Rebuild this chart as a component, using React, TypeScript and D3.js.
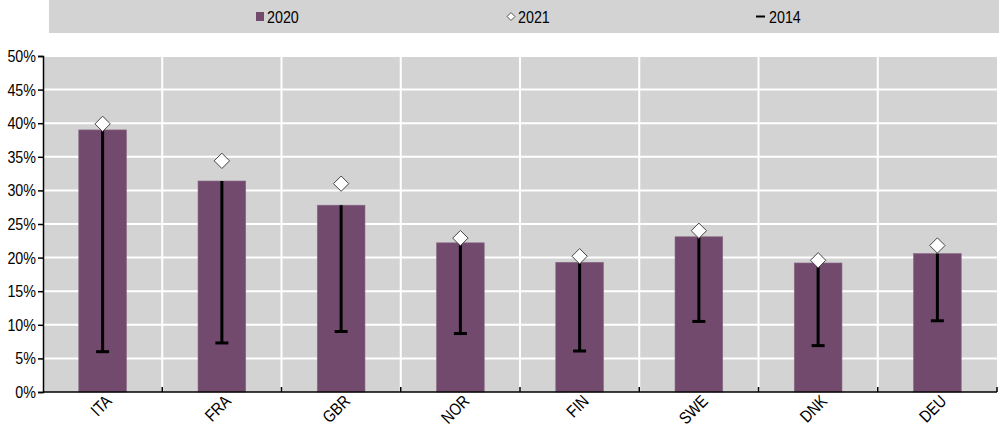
import { useEffect, useRef } from 'react';
import * as d3 from 'd3';

const countries = ['ITA', 'FRA', 'GBR', 'NOR', 'FIN', 'SWE', 'DNK', 'DEU'];
const values2020 = [39.0, 31.4, 27.8, 22.2, 19.3, 23.1, 19.2, 20.6];
const values2021 = [39.9, 34.4, 31.0, 22.9, 20.2, 24.0, 19.6, 21.8];
const values2014 = [6.0, 7.3, 9.0, 8.7, 6.1, 10.5, 6.9, 10.6];
const yTicks = [0, 5, 10, 15, 20, 25, 30, 35, 40, 45, 50];

const W = 1000;
const H = 429;
const font = '"Liberation Sans Narrow", "Liberation Sans", Arial, sans-serif';
const fs = 17;

const App = (): JSX.Element => {
  const svgRef = useRef<SVGSVGElement>(null);

  useEffect(() => {
    document.body.style.margin = '0';
    if (svgRef.current) svgRef.current.innerHTML = '';

    const marginLeft = 43;
    const marginRight = 3;
    const marginTop = 56;
    const marginBottom = 37;

    const x = d3.scaleBand(countries, [marginLeft, W - marginRight]);
    const y = d3.scaleLinear([0, 50], [H - marginBottom, marginTop]);
    const barW = x.bandwidth() * 0.4;

    const svg = d3.select(svgRef.current).attr('width', W).attr('height', H).attr('viewBox', [0, 0, W, H]);

    // legend box
    const legend = svg.append('g');
    legend.append('rect').attr('x', 49).attr('y', 0).attr('width', 950).attr('height', 33).attr('fill', '#d3d3d3');
    legend.append('rect').attr('x', 256).attr('y', 12).attr('width', 8).attr('height', 9).attr('fill', '#724a6e');
    legend
      .append('path')
      .attr('d', d3.symbol(d3.symbolDiamond2, 40)())
      .attr('transform', 'translate(511,16.5)')
      .attr('fill', '#fff')
      .attr('stroke', '#555')
      .attr('stroke-width', 1);
    legend.append('line').attr('x1', 756).attr('x2', 765).attr('y1', 16.5).attr('y2', 16.5).attr('stroke', '#000').attr('stroke-width', 2);
    const legendText = [
      { t: '2020', x: 267 },
      { t: '2021', x: 518 },
      { t: '2014', x: 769 },
    ];
    legend
      .selectAll('text')
      .data(legendText)
      .enter()
      .append('text')
      .attr('x', (d) => d.x)
      .attr('y', 23)
      .attr('font-family', font)
      .attr('font-size', fs)
      .attr('fill', '#000')
      .text((d) => d.t);

    // plot background
    svg
      .append('rect')
      .attr('x', marginLeft)
      .attr('y', marginTop)
      .attr('width', W - marginRight - marginLeft)
      .attr('height', H - marginBottom - marginTop)
      .attr('fill', '#d3d3d3');

    // horizontal grid
    svg
      .append('g')
      .selectAll('line')
      .data(yTicks.slice(1))
      .enter()
      .append('line')
      .attr('x1', marginLeft)
      .attr('x2', W - marginRight)
      .attr('y1', (d) => y(d))
      .attr('y2', (d) => y(d))
      .attr('stroke', '#fff')
      .attr('stroke-width', 2);

    // vertical grid at category boundaries
    const bounds = countries.slice(1).map((c) => x(c) as number);
    svg
      .append('g')
      .selectAll('line')
      .data(bounds)
      .enter()
      .append('line')
      .attr('x1', (d) => d)
      .attr('x2', (d) => d)
      .attr('y1', marginTop)
      .attr('y2', H - marginBottom)
      .attr('stroke', '#fff')
      .attr('stroke-width', 2);

    const cx = (c: string) => (x(c) as number) + x.bandwidth() / 2;

    // bars
    svg
      .append('g')
      .selectAll('rect')
      .data(countries)
      .enter()
      .append('rect')
      .attr('x', (d) => cx(d) - barW / 2)
      .attr('y', (_, i) => y(values2020[i]))
      .attr('width', barW)
      .attr('height', (_, i) => y(0) - y(values2020[i]))
      .attr('fill', '#724a6e')
      .attr('stroke', '#8a6a86')
      .attr('stroke-width', 0.6);

    // 2014 lines with caps
    const lines = svg.append('g');
    countries.forEach((c, i) => {
      lines
        .append('line')
        .attr('x1', cx(c))
        .attr('x2', cx(c))
        .attr('y1', y(values2014[i]))
        .attr('y2', y(Math.min(values2020[i], values2021[i])))
        .attr('stroke', '#000')
        .attr('stroke-width', 3);
      lines
        .append('line')
        .attr('x1', cx(c) - 6.5)
        .attr('x2', cx(c) + 6.5)
        .attr('y1', y(values2014[i]))
        .attr('y2', y(values2014[i]))
        .attr('stroke', '#000')
        .attr('stroke-width', 3);
    });

    // 2021 diamonds
    svg
      .append('g')
      .selectAll('path')
      .data(countries)
      .enter()
      .append('path')
      .attr('d', d3.symbol(d3.symbolDiamond2, 150)())
      .attr('transform', (d, i) => `translate(${cx(d)},${y(values2021[i])})`)
      .attr('fill', '#fff')
      .attr('stroke', '#444')
      .attr('stroke-width', 1);

    // y axis
    svg
      .append('g')
      .attr('transform', `translate(${marginLeft},0)`)
      .call(d3.axisLeft(y).tickValues(yTicks).tickSize(5).tickSizeOuter(5).tickFormat((d) => `${d}%`))
      .call((g) => g.select('.domain').attr('stroke-width', 1.5))
      .call((g) => g.selectAll('.tick line').attr('stroke-width', 1.5))
      .call((g) =>
        g.selectAll('.tick text').attr('font-family', font).attr('font-size', fs).attr('fill', '#000').attr('x', -7)
      );

    // x axis
    const xAxis = svg.append('g');
    xAxis
      .append('line')
      .attr('x1', marginLeft)
      .attr('x2', W - marginRight)
      .attr('y1', y(0))
      .attr('y2', y(0))
      .attr('stroke', '#000')
      .attr('stroke-width', 1.5);
    xAxis
      .selectAll('line.tk')
      .data([...bounds, W - marginRight])
      .enter()
      .append('line')
      .attr('class', 'tk')
      .attr('x1', (d) => d)
      .attr('x2', (d) => d)
      .attr('y1', y(0))
      .attr('y2', y(0) - 5)
      .attr('stroke', '#000')
      .attr('stroke-width', 1.5);
    xAxis
      .selectAll('text')
      .data(countries)
      .enter()
      .append('text')
      .attr('transform', (d) => `translate(${cx(d) + 6},${y(0) + 6}) rotate(-45)`)
      .attr('text-anchor', 'end')
      .attr('dy', '0.35em')
      .attr('font-family', font)
      .attr('font-size', fs)
      .attr('fill', '#000')
      .text((d) => d);

    // condense all texts (narrow font look)
    svg.selectAll<SVGTextElement, unknown>('text').each(function () {
      const len = this.getComputedTextLength();
      if (len > 0) {
        d3.select(this).attr('textLength', len * 0.84).attr('lengthAdjust', 'spacingAndGlyphs');
      }
    });
  }, []);

  return <svg ref={svgRef} />;
};

export default App;
